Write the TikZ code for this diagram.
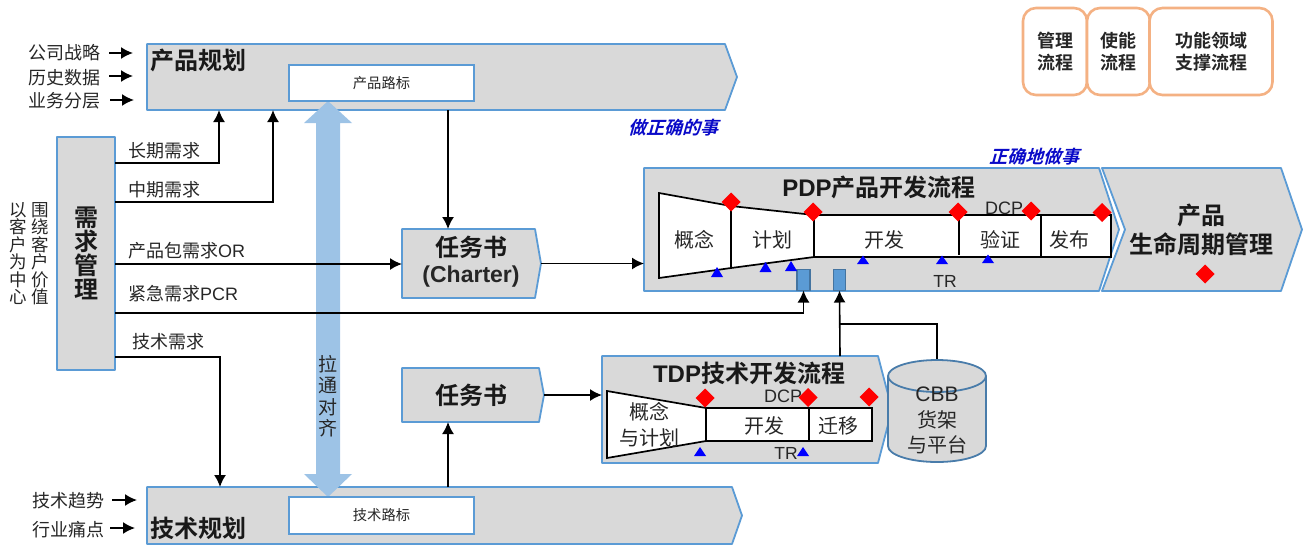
\documentclass[tikz,border=0pt]{standalone}
\usepackage{fontspec}
\setmainfont{Noto Sans CJK SC}[BoldFont={Noto Sans CJK SC Bold}]
\newfontfamily\al{Liberation Sans}
\newfontfamily\cjkit[FakeSlant=0.28]{Noto Sans CJK SC Bold}
\usetikzlibrary{arrows.meta,calc}
\definecolor{ln}{HTML}{5B9BD5}
\definecolor{gy}{HTML}{D9D9D9}
\definecolor{bar}{HTML}{9DC3E6}
\definecolor{og}{HTML}{F4B183}
\definecolor{tx}{HTML}{262626}
\definecolor{itb}{RGB}{10,10,200}
\newcommand{\fs}[1]{\fontsize{#1}{#1}\selectfont}
\newcommand{\chev}[6]{% name, xl, xr, xtip, ytop, ybot
  \pgfmathsetmacro{\cw}{#4-#2}\pgfmathsetmacro{\ch}{#6-#5}
  \pgfmathsetmacro{\cx}{(#2+#4)/2}\pgfmathsetmacro{\cy}{(#5+#6)/2}
  \draw[box] (#2,#5) -- (#3,#5) -- (#4,\cy) -- (#3,#6) -- (#2,#6) -- cycle;
  \node[ghost,minimum width=\cw pt,minimum height=\ch pt] (#1) at (\cx,\cy) {};}
\tikzset{
  box/.style={draw=ln,fill=gy,line width=1.8pt,line join=round},
  ghost/.style={inner sep=0,outer sep=0,draw=none},
  inbox/.style={draw=ln,fill=white,line width=1.8pt,inner sep=0,outer sep=0,text=tx,font=\fs{14.3}},
  arr/.style={draw=black,line width=1.7pt,-{Latex[length=12pt,width=12pt]}},
  conn/.style={draw=black,line width=1.7pt},
  lab/.style={inner sep=0,outer sep=0,text=tx,font=\fs{18}},
  big/.style={inner sep=0,outer sep=0,text=black!90,font=\fs{24}\bfseries,align=center},
  stage/.style={inner sep=0,outer sep=0,text=tx,font=\fs{20}},
  shp/.style={draw=black,fill=white,line width=1.7pt,line join=miter},
  dia/.style={fill=red,draw=none},
  tri/.style={fill=blue,draw=none},
  pin/.style={draw=ln!75!black,fill=ln,line width=1.3pt,inner sep=0,outer sep=0},
  legend/.style={draw=og,fill=white,line width=2.6pt,rounded corners=13pt,inner sep=0,align=center,text=tx,font=\fs{18}\bfseries},
  itl/.style={inner sep=0,outer sep=0,text=itb,font=\fs{18}\cjkit},
}
\newcommand{\dm}[3]{\fill[dia] (#1-#3,#2) -- (#1,#2-#3) -- (#1+#3,#2) -- (#1,#2+#3) -- cycle;}
\newcommand{\tg}[3]{\fill[tri] (#1-6,#3) -- (#1,#2) -- (#1+6,#3) -- cycle;}
\begin{document}
\begin{tikzpicture}[x=1pt,y=-1pt]
\useasboundingbox (0,0) rectangle (1305,544);
\clip (0,0) rectangle (1305,544);
% chevrons
\chev{plan}{147}{725}{737}{44}{110}
\chev{tplan}{147}{732}{742}{487}{544}
\chev{pdp}{644}{1099}{1119}{168}{291}
\draw[box] (1102,168) -- (1281,168) -- (1302,229.5) -- (1281,291) -- (1102,291) -- (1125,229.5) -- cycle;
\node[big] (life) at (1201,229.5) {产品\\[5pt]生命周期管理};
\chev{tdp}{602}{878}{892}{356}{463}
\chev{chart}{402}{535}{541}{229}{298}
\chev{task}{402}{539}{544}{368}{422}
\node[box,inner sep=0,outer sep=0,minimum width=58pt,minimum height=233pt] (dem) at (86,253.5) {};
% big double arrow
\fill[bar] (328,101) -- (352,123) -- (340,123) -- (340,474) -- (352,474) -- (328,497) -- (304,474) -- (316,474) -- (316,123) -- (304,123) -- cycle;
\node[inner sep=0,text=tx,font=\fs{19},align=center] (pull) at (328,396) {拉\\[2.5pt]通\\[2.5pt]对\\[2.5pt]齐};
% roadmap boxes
\node[inbox,minimum width=185pt,minimum height=36pt] (rm1) at (381.5,83) {产品路标};
\node[inbox,minimum width=185pt,minimum height=37pt] (rm2) at (381.5,515.5) {技术路标};
% titles
\node[big] (t1) at (198,60) {产品规划};
\node[big] (t2) at (198,528) {技术规划};
\node[big] (t3) at (471,247) {任务书};
\node[inner sep=0,text=tx,font=\al\fs{23}\bfseries] (t3b) at (471,276.5) {(Charter)};
\node[big] (t4) at (471,395) {任务书};
\node[big,font=\fs{24}\bfseries,inner sep=0] (t5) at (879,187) {{\al\fs{24}PDP}产品开发流程};
\node[big] (t6) at (749,373) {{\al\fs{24}TDP}技术开发流程};
\node[big,font=\fs{24}\bfseries] (t7) at (86,253.5) {需\\求\\管\\理};
% left text
\node[lab,font=\fs{17.5},align=center] (v1) at (18,253.5) {以\\客\\户\\为\\中\\心};
\node[lab,font=\fs{17.5},align=center] (v2) at (40,253.5) {围\\绕\\客\\户\\价\\值};
% inputs
\node[lab,anchor=west] (s1) at (28,53) {公司战略};
\node[lab,anchor=west] (s2) at (28,78) {历史数据};
\node[lab,anchor=west] (s3) at (28,101) {业务分层};
\node[lab,anchor=west] (s4) at (32,501) {技术趋势};
\node[lab,anchor=west] (s5) at (32,530) {行业痛点};
\draw[arr] ([xshift=9pt,yshift=0pt]s1.east) -- ([xshift=33pt]s1.east);
\draw[arr] ([xshift=9pt,yshift=2pt]s2.east) -- ([xshift=33pt,yshift=2pt]s2.east);
\draw[arr] ([xshift=10pt,yshift=1pt]s3.east) -- ([xshift=34pt,yshift=1pt]s3.east);
\draw[arr] ([xshift=8pt,yshift=1pt]s4.east) -- ([xshift=33pt,yshift=1pt]s4.east);
\draw[arr] ([xshift=6pt,yshift=2pt]s5.east) -- ([xshift=31pt,yshift=2pt]s5.east);
% demand labels
\node[lab,anchor=west] (d1) at (128,151) {长期需求};
\node[lab,anchor=west] (d2) at (128,190) {中期需求};
\node[lab,anchor=west] (d3) at (128,251) {产品包需求{\al OR}};
\node[lab,anchor=west] (d4) at (128,294) {紧急需求{\al PCR}};
\node[lab,anchor=west] (d5) at (132,342) {技术需求};
% pins
\node[pin,minimum width=13pt,minimum height=21pt] (p1) at (803.5,280) {};
\node[pin,minimum width=12pt,minimum height=21pt] (p2) at (839.5,280) {};
% cylinder
\draw[draw=ln!80!black,fill=gy,line width=1.8pt] (888,376) -- (888,446) arc[start angle=180,end angle=360,x radius=49pt,y radius=16pt] -- (986,376);
\draw[draw=ln!80!black,fill=gy,line width=1.8pt] (937,376) ellipse[x radius=49pt,y radius=16pt];
\node[inner sep=0,text=tx,font=\fs{20},align=center,minimum width=98pt,minimum height=102pt] (cbb) at (937,410) {};
\node[inner sep=0,text=tx,font=\al\fs{21}] (cbb1) at (937,394) {CBB};
\node[inner sep=0,text=tx,font=\fs{20}] (cbb2) at (937,420) {货架};
\node[inner sep=0,text=tx,font=\fs{20}] (cbb3) at (937,445) {与平台};
% connectors
\coordinate (j) at (840,324);
\draw[arr] (dem.east |- 0,163) -| (plan.south -| 219,0);
\draw[arr] (dem.east |- 0,202) -| (plan.south -| 273,0);
\draw[arr,line width=1.6pt] (dem.east |- 0,264) -- (chart.west |- 0,264);
\draw[arr,line width=1.6pt] (dem.east |- 0,313) -| (p1.south);
\draw[arr,line width=1.6pt] (dem.east |- 0,357) -| (tplan.north -| 220,0);
\draw[arr,line width=1.6pt] (plan.south -| 448,0) -- (chart.north -| 448,0);
\draw[arr,line width=1.6pt] (chart.east) -- (pdp.west |- chart.east);
\draw[arr,line width=1.6pt] (task.east) -- (tdp.west |- task.east);
\draw[arr,line width=1.6pt] (tplan.north -| 448,0) -- (task.south -| 448,0);
\draw[arr,line width=1.6pt] (tdp.north -| j) -- (p2.south);
\draw[conn,line width=1.6pt] (cbb.north) |- (j);
% PDP internals
\draw[shp] (659,193) -- (731,206) -- (731,268) -- (659,278) -- cycle;
\draw[shp] (731,206) -- (814,215) -- (814,257) -- (731,268) -- cycle;
\draw[shp] (814,215) rectangle (1111,257);
\draw[conn] (959,215) -- (959,255);
\draw[conn] (1041,215) -- (1041,257);
\node[stage] (a1) at (694,240) {概念};
\node[stage] (a2) at (772,240) {计划};
\node[stage] (a3) at (884,240) {开发};
\node[stage] (a4) at (1000,240) {验证};
\node[stage] (a5) at (1069,240) {发布};
\node[inner sep=0,text=tx,font=\al\fs{18}] (a6) at (1004,208) {DCP};
\node[inner sep=0,text=tx,font=\al\fs{17.5}] (a7) at (945,281) {TR};
\dm{731}{202}{9.5}\dm{813}{212}{9.5}\dm{958}{212}{9.5}\dm{1031}{211}{9.5}\dm{1102}{212.5}{9.5}\dm{1205}{274}{9.5}
\tg{717}{267}{277}\tg{765.5}{262}{272}\tg{791}{261}{271}\tg{863}{255.5}{264}\tg{942}{255.5}{264}\tg{988}{254.5}{263}
% TDP internals
\draw[shp] (607,391) -- (706,408) -- (706,441) -- (607,458) -- cycle;
\draw[shp] (706,408) rectangle (872,441);
\draw[conn] (809,408) -- (809,441);
\node[stage,align=center] (b1) at (649,412) {概念};
\node[stage] (b2) at (649,438) {与计划};
\node[stage] (b3) at (764,426) {开发};
\node[stage] (b4) at (838,426) {迁移};
\node[inner sep=0,text=tx,font=\al\fs{18}] (b5) at (783,396) {DCP};
\node[inner sep=0,text=tx,font=\al\fs{17.5}] (b6) at (786,453) {TR};
\dm{705}{398}{9.5}\dm{808}{397.5}{9.5}\dm{869}{397}{9.5}
\tg{700}{447}{456}\tg{803}{447}{456}
% italics
\node[itl] (i1) at (673,128) {做正确的事};
\node[itl] (i2) at (1034,157) {正确地做事};
% legend
\node[legend,minimum width=64pt,minimum height=87pt] (l1) at (1055,51.5) {管理\\[3.5pt]流程};
\node[legend,minimum width=63pt,minimum height=87pt] (l2) at (1118.5,51.5) {使能\\[3.5pt]流程};
\node[legend,minimum width=123pt,minimum height=87pt] (l3) at (1211,51.5) {功能领域\\[3.5pt]支撑流程};
\end{tikzpicture}
\end{document}
